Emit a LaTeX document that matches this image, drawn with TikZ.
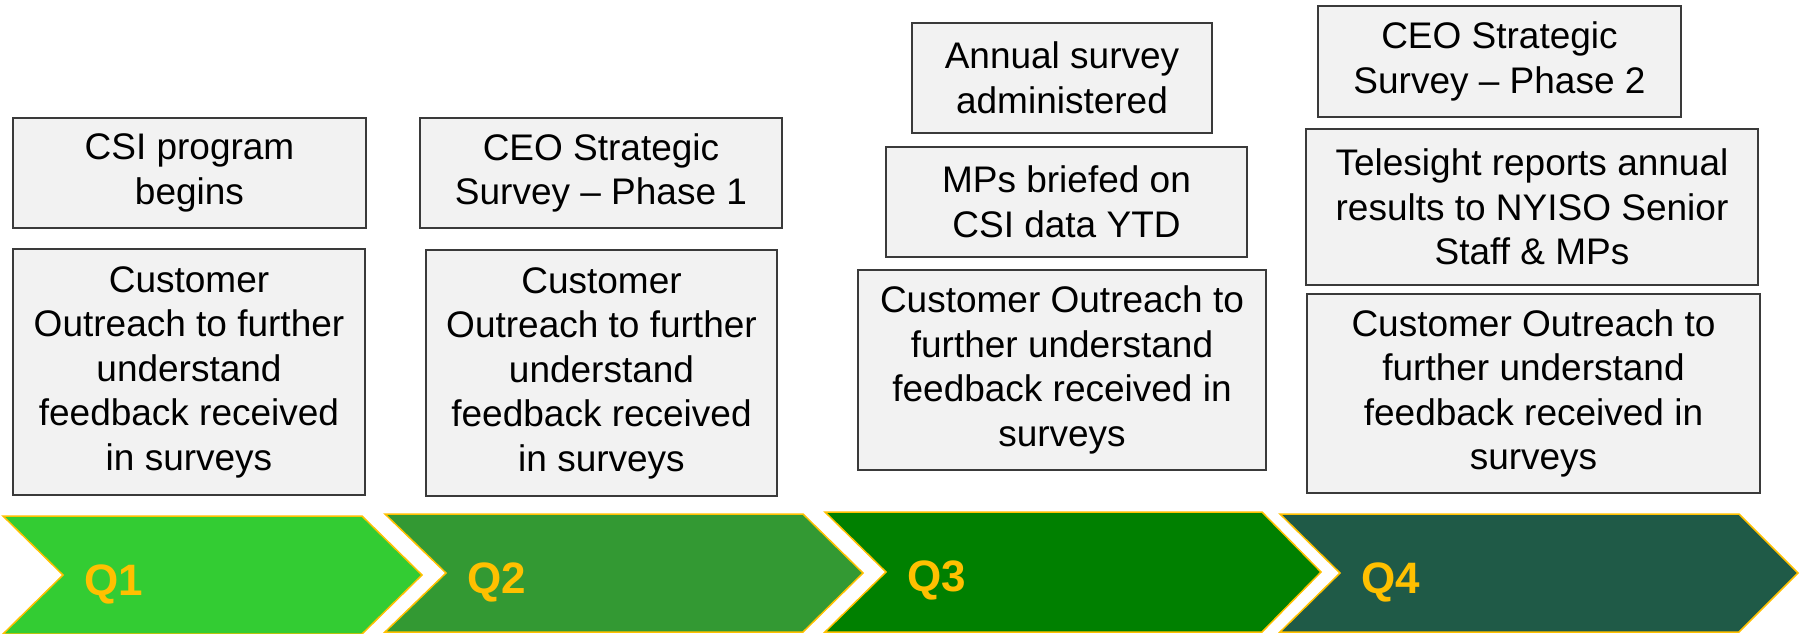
\documentclass[tikz,border=0pt]{standalone}
\usepackage{fontspec}
\setmainfont{Liberation Sans}
\definecolor{boxfill}{HTML}{F2F2F2}
\definecolor{boxline}{HTML}{3A3A3A}
\definecolor{gold}{HTML}{FFC000}
\definecolor{qone}{HTML}{33CC33}
\definecolor{qtwo}{HTML}{339933}
\definecolor{qthree}{HTML}{008000}
\definecolor{qfour}{HTML}{1F5A47}
\tikzset{
  evbox/.style={draw=boxline,line width=1.8pt,fill=boxfill,align=center,inner sep=0pt,
    font=\fontsize{37}{44.5}\selectfont},
  qarrow/.style={draw=gold,line width=1.5pt,line join=miter},
  qlabel/.style={text=gold,inner sep=0pt,anchor=base west,font=\fontsize{44}{50}\selectfont\bfseries}
}
\begin{document}
\begin{tikzpicture}[x=1pt,y=-1pt]
\useasboundingbox (0,0) rectangle (1805,633);
% quarter chevrons
\draw[qarrow,fill=qone] (3,516) -- (362,516) -- (422,575) -- (362,634) -- (3,634) -- (63,575) -- cycle;
\draw[qarrow,fill=qtwo] (385,514) -- (803,514) -- (863,573) -- (803,632) -- (385,632) -- (446,573) -- cycle;
\draw[qarrow,fill=qthree] (825,512) -- (1262,512) -- (1321,572) -- (1262,632) -- (825,632) -- (886,572) -- cycle;
\draw[qarrow,fill=qfour] (1280,514) -- (1739,514) -- (1798,573) -- (1739,632) -- (1280,632) -- (1340,573) -- cycle;
\node[qlabel] (lq1) at (84,595) {Q1};
\node[qlabel] (lq2) at (467,593) {Q2};
\node[qlabel] (lq3) at (907,591) {Q3};
\node[qlabel] (lq4) at (1361,593) {Q4};
% Q1
\node[evbox,minimum width=353pt,minimum height=110pt] (q1top) at (189.5,173) {CSI program\\begins};
\node[evbox,minimum width=352pt,minimum height=246pt] (q1out) at (189,372)
  {Customer\\Outreach to further\\understand\\feedback received\\in surveys};
% Q2
\node[evbox,minimum width=362pt,minimum height=110pt] (q2top) at (601,173) {CEO Strategic\\Survey -- Phase 1};
\node[evbox,minimum width=351pt,minimum height=246pt] (q2out) at (601.5,373)
  {Customer\\Outreach to further\\understand\\feedback received\\in surveys};
% Q3
\node[evbox,minimum width=300pt,minimum height=110pt] (q3top) at (1062,78) {Annual survey\\administered};
\node[evbox,minimum width=361pt,minimum height=110pt] (q3mid) at (1066.5,202) {MPs briefed on\\CSI data YTD};
\node[evbox,minimum width=408pt,minimum height=200pt] (q3out) at (1062,370)
  {Customer Outreach to\\further understand\\feedback received in\\surveys};
% Q4
\node[evbox,minimum width=363pt,minimum height=111pt] (q4top) at (1499.5,61.5) {CEO Strategic\\Survey -- Phase 2};
\node[evbox,minimum width=452pt,minimum height=156pt] (q4mid) at (1532,207)
  {Telesight reports annual\\results to NYISO Senior\\Staff \& MPs};
\node[evbox,minimum width=453pt,minimum height=199pt] (q4out) at (1533.5,393.5)
  {Customer Outreach to\\further understand\\feedback received in\\surveys};
\end{tikzpicture}
\end{document}
